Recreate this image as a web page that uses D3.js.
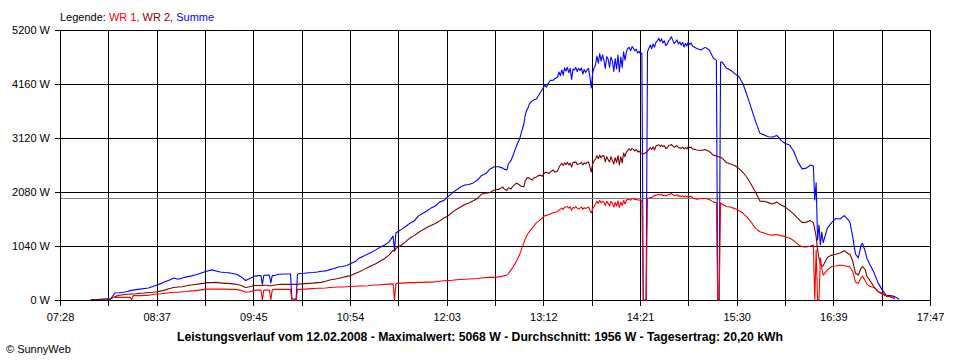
<!DOCTYPE html>
<html><head><meta charset="utf-8">
<script src="https://cdn.jsdelivr.net/npm/d3@7"></script>
<style>
body{margin:0;background:#fff}
svg{display:block}
text{font-family:"Liberation Sans",Arial,sans-serif}
</style>
</head><body>
<svg id="c" width="960" height="360"></svg>
<script>
// ---------- data ----------
const times = [
"07:50","07:52","07:55","07:58",
"08:01","08:04","08:07","08:10","08:13","08:16","08:18","08:19","08:20","08:22","08:25","08:28","08:31","08:34","08:37","08:40","08:43","08:46","08:49","08:52","08:55","08:58",
"09:01","09:04","09:07","09:10","09:13","09:16","09:19","09:22","09:25","09:28","09:31","09:34","09:37","09:40","09:43","09:46","09:49","09:51","09:52","09:53","09:55","09:57","09:58","09:59",
"10:01","10:04","10:07","10:10","10:12","10:13","10:16","10:17","10:19","10:22","10:25","10:28","10:31","10:34","10:37","10:40","10:43","10:46","10:49","10:52","10:55","10:58",
"11:01","11:04","11:07","11:10","11:13","11:16","11:19","11:22","11:25","11:26","11:27","11:28","11:31","11:34","11:37","11:40","11:43","11:46","11:49","11:52","11:55","11:58",
"12:01","12:04","12:07","12:10","12:13","12:16","12:19","12:22","12:25","12:28","12:31","12:34","12:37","12:40","12:43","12:44","12:46","12:47","12:49","12:50","12:52","12:53","12:55","12:56","12:58","12:59",
"13:00","13:01","13:02","13:04","13:05","13:07","13:08","13:10","13:11","13:13","13:14","13:16","13:17","13:19","13:20","13:22","13:23","13:24",
"13:25","13:26","13:27","13:28","13:29","13:30","13:31","13:32","13:33","13:34","13:35","13:36","13:37","13:38","13:39","13:40","13:41","13:42",
"13:43","13:44","13:45","13:46","13:47","13:48","13:49","13:50","13:51","13:52","13:53","13:54","13:55","13:56","13:57","13:58","13:59",
"14:00","14:01","14:02","14:03","14:04","14:05","14:06","14:07","14:08","14:09","14:10","14:11","14:12","14:13","14:14","14:15","14:16","14:17","14:18","14:19","14:20","14:21","14:22",
"14:23","14:25",
"14:26","14:27","14:28","14:29","14:30","14:31","14:32","14:33","14:34","14:35","14:36","14:37","14:38","14:39","14:40","14:41","14:42","14:43",
"14:44","14:45","14:46","14:47","14:48","14:49","14:50","14:51","14:52","14:53","14:54","14:55","14:56","14:57","14:58",
"15:01","15:04","15:07","15:10","15:13","15:15","15:16","15:17","15:18","15:19","15:22","15:25","15:28","15:31","15:34","15:37","15:40","15:43","15:46","15:49","15:52","15:55","15:58",
"16:01","16:04","16:07","16:10","16:13","16:16","16:19","16:22","16:24","16:25","16:26","16:27","16:28","16:29","16:30","16:31","16:34","16:37","16:40","16:43","16:46","16:49","16:50","16:52","16:54","16:56","16:58","16:59",
"17:01","17:02","17:04","17:07","17:10","17:13","17:16","17:19","17:22","17:25"
];
const summe = [
10,10,10,15,
20,20,135,140,150,165,180,185,190,200,210,220,230,260,290,320,355,385,425,400,425,445,
460,480,505,535,560,580,560,540,530,525,510,490,445,375,415,455,470,470,300,475,480,475,330,470,
475,495,500,500,500,20,20,500,510,515,525,530,540,555,560,585,605,635,645,665,705,740,
810,845,885,925,970,1020,1060,1115,1230,960,1290,1310,1360,1415,1480,1520,1620,1665,1715,1770,1810,1885,
1915,1985,2060,2120,2175,2215,2225,2255,2310,2400,2435,2525,2565,2565,2540,2520,2505,2620,2695,2760,2910,2980,3100,3200,3390,3560,
3650,3700,3780,3835,3850,3870,3920,4005,4050,4140,4100,4200,4230,4235,4260,4295,4390,4320,
4430,4330,4470,4410,4480,4380,4460,4250,4450,4430,4480,4400,4460,4420,4470,4350,4440,4380,
4430,4460,4300,4085,4380,4470,4525,4700,4560,4745,4600,4720,4620,4460,4690,4640,4480,
4680,4600,4400,4650,4450,4720,4390,4680,4480,4780,4620,4780,4850,4865,4800,4880,4845,4800,4830,4755,4790,4740,4755,
0,0,
4780,4850,4910,4840,4930,4870,4960,4990,5040,4980,5030,4950,4990,4900,4930,4990,5020,5068,
5000,4940,4970,5010,4930,4970,4910,4960,4870,4940,4890,4970,4920,4950,4890,
4845,4815,4865,4815,4650,4620,0,0,4585,4585,4470,4430,4360,4305,4160,3930,3680,3430,3210,3180,3145,3140,3170,
3075,3015,2985,2870,2660,2525,2540,2600,2580,1925,2255,1155,1445,1060,1310,1105,1385,1490,1570,1560,1625,1540,1500,1215,885,810,1060,1090,
925,810,695,540,330,195,85,85,65,15
];
const wr2 = [
10,10,10,15,
20,20,65,90,100,110,115,115,115,120,130,135,145,150,160,175,195,220,240,250,255,275,
290,300,310,320,335,335,340,330,320,320,310,300,280,240,255,280,280,280,280,285,285,275,270,280,
290,300,300,300,300,300,300,300,310,315,320,325,335,340,360,385,400,415,435,455,470,510,
545,585,625,665,705,750,800,865,955,940,990,1010,1060,1125,1195,1240,1300,1350,1395,1435,1475,1520,
1580,1620,1685,1745,1790,1840,1870,1910,1955,2040,2055,2070,2120,2130,2175,2140,2110,2160,2140,2185,2235,2250,2215,2190,2180,2290,
2340,2360,2340,2310,2350,2370,2390,2405,2380,2455,2460,2435,2470,2505,2460,2485,2550,2600,
2630,2590,2640,2610,2650,2600,2635,2560,2650,2650,2660,2610,2620,2630,2650,2600,2640,2620,
2650,2660,2570,2465,2620,2680,2715,2780,2720,2790,2740,2780,2775,2660,2760,2705,2660,
2760,2685,2620,2740,2650,2780,2600,2760,2640,2830,2760,2850,2880,2910,2880,2920,2900,2870,2900,2850,2870,2830,2825,
2810,2840,
2870,2900,2935,2900,2950,2890,2960,2980,2990,2960,2985,2955,2970,2920,2930,2975,2980,2995,
2970,2940,2955,2975,2935,2930,2920,2945,2910,2935,2910,2955,2935,2945,2910,
2890,2880,2900,2860,2785,2775,2765,2755,2745,2735,2650,2620,2590,2535,2455,2350,2215,2070,1905,1900,1875,1850,1885,
1830,1790,1725,1655,1570,1490,1500,1530,1485,1365,1215,965,810,695,645,665,820,865,880,905,950,885,885,750,515,480,615,645,
580,460,385,260,165,130,75,65,30,null
];
const wr1 = [
null,null,null,null,
null,null,50,50,50,50,50,0,85,85,85,90,90,105,115,120,130,140,150,150,160,165,
175,180,190,200,210,210,210,210,210,205,205,200,185,150,160,185,190,190,0,190,190,190,0,195,
205,205,205,205,205,0,0,205,205,210,215,220,225,225,230,240,245,250,250,255,260,265,
270,270,275,285,290,295,300,305,310,0,315,320,325,330,335,335,340,340,345,345,350,360,
370,375,380,390,395,400,405,410,415,425,430,435,435,445,460,465,480,510,585,620,710,760,875,950,1100,1170,
1230,1280,1320,1385,1420,1490,1510,1550,1580,1625,1630,1645,1660,1680,1690,1700,1730,1750,
1770,1740,1790,1790,1800,1770,1795,1730,1780,1770,1800,1770,1750,1770,1790,1745,1780,1760,
1780,1790,1730,1675,1760,1800,1850,1900,1860,1920,1870,1900,1885,1820,1900,1860,1810,
1900,1870,1790,1880,1810,1910,1780,1885,1820,1920,1850,1920,1940,1935,1920,1950,1955,1930,1940,1925,1925,1920,1915,
0,0,
1960,1960,1975,1970,2000,2010,2020,2025,2035,2020,2040,2005,2020,2000,2020,2030,2040,2050,
2030,2010,2005,2030,2000,2005,1990,2010,1985,2005,1980,2005,1990,2000,1965,
1940,1955,1955,1935,1885,1875,0,0,1870,1850,1800,1790,1760,1725,1670,1590,1490,1375,1315,1290,1260,1250,1260,
1240,1220,1195,1145,1070,1025,1020,1040,1060,0,960,0,0,810,615,480,580,645,655,675,660,645,635,550,345,320,435,460,
365,310,265,240,165,110,75,60,30,null
];
const yTicks = [0, 1040, 2080, 3120, 4160, 5200];
const xTickLabels = ["07:28","08:37","09:45","10:54","12:03","13:12","14:21","15:30","16:39","17:47"];
const average = 1956;
const legendItems = [
  {text:"Legende: ", color:"#000000"},
  {text:"WR 1, ", color:"#ff0000"},
  {text:"WR 2, ", color:"#800000"},
  {text:"Summe", color:"#0000ff"}
];
const titleText = "Leistungsverlauf vom 12.02.2008 - Maximalwert: 5068 W - Durchschnitt: 1956 W - Tagesertrag: 20,20 kWh";
const copyrightText = "\u00A9 SunnyWeb";

// ---------- chart ----------
const parse = s => { const [h, m] = s.split(":").map(Number); return h * 60 + m; };
const t0 = parse(xTickLabels[0]), t1 = parse(xTickLabels[xTickLabels.length - 1]);
const x = d3.scaleLinear().domain([t0, t1]).range([60, 930]);
const y = d3.scaleLinear().domain([0, 5200]).range([300, 30]);
const px = v => Math.round(v) + 0.5;

const svg = d3.select("#c");
svg.append("rect").attr("width", 960).attr("height", 360).attr("fill", "#ffffff");

// grid
const gridTimes = d3.range(19).map(i => t0 + i * (t1 - t0) / 18);
svg.append("g").selectAll("line").data(gridTimes).join("line")
  .attr("x1", d => px(x(d))).attr("x2", d => px(x(d)))
  .attr("y1", px(y(5200))).attr("y2", y(0) + 6)
  .attr("stroke", "#000").attr("shape-rendering", "crispEdges");
svg.append("g").selectAll("line").data(yTicks).join("line")
  .attr("x1", 55).attr("x2", 931)
  .attr("y1", d => px(y(d))).attr("y2", d => px(y(d)))
  .attr("stroke", "#000").attr("shape-rendering", "crispEdges");

// average line
svg.append("line")
  .attr("x1", 61).attr("x2", 930)
  .attr("y1", px(y(average))).attr("y2", px(y(average)))
  .attr("stroke", "#808080").attr("shape-rendering", "crispEdges");

// axes (labels)
const yAxis = d3.axisLeft(y).tickValues(yTicks).tickFormat(d => d + " W").tickSize(5).tickPadding(5);
const yg = svg.append("g").attr("transform", "translate(60,0)").call(yAxis);
const xTickVals = d3.range(xTickLabels.length).map(k => t0 + k * (t1 - t0) / (xTickLabels.length - 1));
const xAxis = d3.axisBottom(x).tickValues(xTickVals).tickFormat((d, i) => xTickLabels[i]).tickSize(5).tickPadding(8);
const xg = svg.append("g").attr("transform", "translate(0,300)").call(xAxis);
[yg, xg].forEach(g => {
  g.select(".domain").remove();
  g.selectAll("line").attr("stroke", "#000").attr("shape-rendering", "crispEdges");
  g.selectAll("text").attr("font-family", "'Liberation Sans', Arial, sans-serif").attr("font-size", 11).attr("fill", "#000");
});

// series
const mk = vals => d3.line()
  .defined((d, i) => vals[i] != null)
  .x((d, i) => x(parse(times[i])))
  .y((d, i) => y(vals[i]))(times);
const series = [
  {vals: summe, color: "#0000ff"},
  {vals: wr2, color: "#800000"},
  {vals: wr1, color: "#ff0000"}
];
svg.append("g").selectAll("path").data(series).join("path")
  .attr("d", d => mk(d.vals))
  .attr("fill", "none").attr("stroke", d => d.color)
  .attr("stroke-width", 1.1).attr("stroke-linejoin", "round");

// legend
const lt = svg.append("text").attr("x", 60).attr("y", 21).attr("font-size", 11).style("white-space", "pre");
lt.selectAll("tspan").data(legendItems).join("tspan")
  .attr("fill", d => d.color).text(d => d.text);

// title
svg.append("text").attr("x", 480).attr("y", 341).attr("text-anchor", "middle")
  .attr("font-size", 12.2).attr("font-weight", "bold").attr("fill", "#000").text(titleText);
svg.append("text").attr("x", 6).attr("y", 353).attr("font-size", 11).attr("fill", "#000").text(copyrightText);
</script>
</body></html>
